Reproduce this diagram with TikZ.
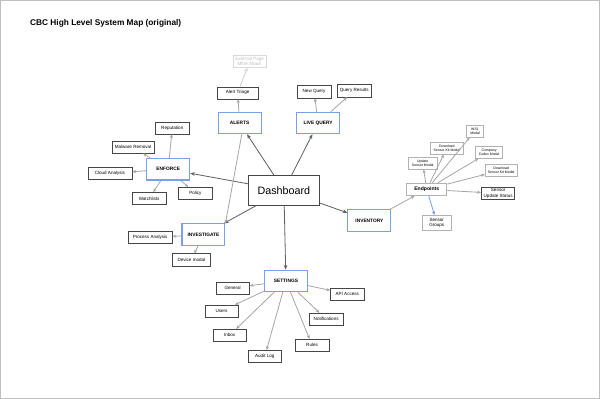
\documentclass[tikz,border=0pt]{standalone}
\usepackage{fontspec}
\setmainfont{Liberation Sans}
\usetikzlibrary{arrows.meta}
\definecolor{hubblue}{RGB}{120,160,235}
\definecolor{leafgray}{RGB}{70,70,70}
\begin{document}
\begin{tikzpicture}[x=0.75pt,y=-0.75pt,
  hub/.style={draw=hubblue,thick,fill=white,minimum width=32pt,minimum height=16pt,font=\fontsize{3.6}{4}\selectfont\bfseries},
  leaf/.style={draw=leafgray,fill=white,minimum width=25pt,minimum height=9pt,inner sep=1pt,font=\fontsize{3.4}{3.8}\selectfont,align=center},
  main/.style={-{Stealth[length=3.5pt,width=2.8pt]},gray!75!black,semithick},
  sub/.style={-{Stealth[length=2.8pt,width=2.4pt]},gray!70,semithick}]
  \draw[gray!50,fill=white] (2,2) rectangle (598,398);
  \node[anchor=west,font=\fontsize{6.2}{7}\selectfont\bfseries] (title) at (27,25) {CBC High Level System Map (original)};
  % hubs
  \node[draw=leafgray,thick,fill=white,minimum width=53pt,minimum height=22pt,font=\fontsize{8}{9}\selectfont] (dash) at (284,191) {Dashboard};
  \node[hub] (alerts) at (240,124) {ALERTS};
  \node[hub] (live) at (318,124) {LIVE QUERY};
  \node[hub] (enforce) at (169,170) {ENFORCE};
  \node[hub] (invest) at (204,235) {INVESTIGATE};
  \node[hub] (invent) at (369,221) {INVENTORY};
  \node[hub] (settings) at (286,281) {SETTINGS};
  % leaves
  \node[leaf,minimum width=31pt] (triage) at (238,94) {Alert Triage};
  \node[leaf,draw=gray!30,text=gray!50] (mitre) at (250,63) {External Page\\Mitre Attack};
  \node[leaf] (newq) at (314,93) {New Query};
  \node[leaf] (qres) at (354,92) {Query Results};
  \node[leaf] (rep) at (173,129) {Reputation};
  \node[leaf,minimum width=31pt] (malw) at (134,148) {Malware Removal};
  \node[leaf,minimum width=33pt] (cloud) at (111,174) {Cloud Analysis};
  \node[leaf] (watch) at (150,199) {Watchlists};
  \node[leaf] (policy) at (196,194) {Policy};
  \node[leaf,minimum width=33pt] (proc) at (151,238) {Process Analysis};
  \node[leaf,minimum width=28pt] (device) at (192,260) {Device modal};
  \node[leaf,draw=gray!60,thick,minimum width=30pt,font=\fontsize{3.8}{4}\selectfont\bfseries] (endp) at (426,190) {Endpoints};
  \node[leaf,draw=gray!60,minimum width=21pt,minimum height=11pt] (sgroups) at (436,223) {Sensor\\Groups};
  \node[leaf,draw=gray!60,minimum width=22pt,font=\fontsize{2.6}{3}\selectfont] (upd) at (422,164) {Update\\Sensor Modal};
  \node[leaf,draw=gray!60,minimum width=24pt,font=\fontsize{2.6}{3}\selectfont] (dlkit) at (446,149) {Download\\Sensor Kit Modal};
  \node[leaf,draw=gray!60,minimum width=13pt,font=\fontsize{2.6}{3}\selectfont] (ws1) at (474,132) {WS1\\Modal};
  \node[leaf,draw=gray!60,minimum width=20pt,font=\fontsize{2.6}{3}\selectfont] (codex) at (488,153) {Company\\Codex Modal};
  \node[leaf,draw=gray!60,minimum width=24pt,font=\fontsize{2.6}{3}\selectfont] (dlkitb) at (500,171) {Download\\Sensor Kit Modal};
  \node[leaf,thick,minimum width=25pt] (supd) at (497,194) {Sensor\\Update Status};
  \node[leaf] (general) at (233,288) {General};
  \node[leaf] (users) at (222,311) {Users};
  \node[leaf] (inbox) at (230,335) {Inbox};
  \node[leaf] (audit) at (265,356) {Audit Log};
  \node[leaf] (rules) at (312,345) {Rules};
  \node[leaf] (notif) at (326,319) {Notifications};
  \node[leaf] (api) at (347,294) {API Access};
  % dashboard arrows
  \draw[main] (dash) -- (alerts);
  \draw[main] (dash) -- (live);
  \draw[main] (dash) -- (enforce);
  \draw[main] (dash) -- (invest);
  \draw[main] (dash) -- (settings);
  \draw[main] (dash) -- (invent);
  % second level
  \draw[sub] (alerts) -- (triage);
  \draw[sub,gray!35] (triage) -- (mitre);
  \draw[sub] (alerts.south west) ++(18pt,0) -- (invest.north east);
  \draw[sub] (live) -- (newq);
  \draw[sub] (live) -- (qres);
  \foreach \n in {rep,malw,cloud,watch,policy} \draw[sub] (enforce) -- (\n);
  \draw[sub] (invest) -- (proc);
  \draw[sub] (invest) -- (device);
  \draw[sub] (invent) -- (endp);
  \draw[sub,hubblue] (endp) -- (sgroups);
  \foreach \n in {upd,dlkit,ws1,codex,dlkitb,supd} \draw[sub] (endp) -- (\n);
  \foreach \n in {general,users,inbox,audit,rules,notif,api} \draw[sub] (settings) -- (\n);
\end{tikzpicture}
\end{document}
